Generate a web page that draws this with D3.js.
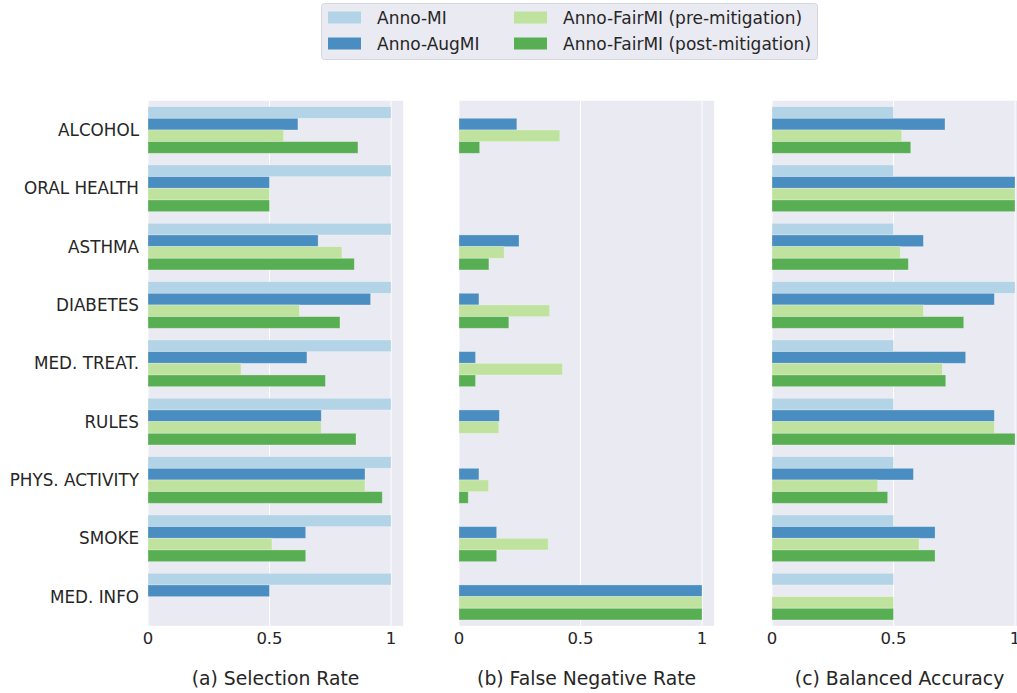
<!DOCTYPE html>
<html>
<head>
<meta charset="utf-8">
<script src="https://cdn.jsdelivr.net/npm/d3@7"></script>
<style>
  body { margin: 0; background: #fff; }
  text { font-family: "DejaVu Sans", sans-serif; fill: #262626; }
</style>
</head>
<body>
<div id="chart"></div>
<script>
// categories and series
const CATEGORIES = ['ALCOHOL', 'ORAL HEALTH', 'ASTHMA', 'DIABETES', 'MED. TREAT.', 'RULES', 'PHYS. ACTIVITY', 'SMOKE', 'MED. INFO'];
const SERIES = ['Anno-MI', 'Anno-AugMI', 'Anno-FairMI (pre-mitigation)', 'Anno-FairMI (post-mitigation)'];
const COLORS = ['#b3d3e6', '#4a8dc0', '#bfe29e', '#58ae52'];

// (a) selection rate, one array per series
const selMI      = [1, 1, 1, 1, 1, 1, 1, 1, 1];
const selAugMI   = [0.617, 0.5, 0.70, 0.916, 0.654, 0.713, 0.893, 0.649, 0.5];
const selFairPre = [0.558, 0.5, 0.798, 0.623, 0.383, 0.713, 0.893, 0.51, 0];
const selFairPost= [0.864, 0.5, 0.849, 0.79, 0.73, 0.856, 0.964, 0.649, 0];

// (b) false negative rate
const fnrMI      = [0, 0, 0, 0, 0, 0, 0, 0, 0];
const fnrAugMI   = [0.238, 0, 0.247, 0.082, 0.068, 0.166, 0.082, 0.155, 1];
const fnrFairPre = [0.415, 0, 0.186, 0.373, 0.426, 0.164, 0.122, 0.367, 1];
const fnrFairPost= [0.085, 0, 0.123, 0.205, 0.068, 0, 0.038, 0.155, 1];

// (c) balanced accuracy
const accMI      = [0.5, 0.5, 0.5, 1, 0.5, 0.5, 0.5, 0.5, 0.5];
const accAugMI   = [0.712, 1, 0.623, 0.915, 0.797, 0.915, 0.582, 0.671, 0];
const accFairPre = [0.534, 1, 0.528, 0.623, 0.701, 0.915, 0.435, 0.605, 0.5];
const accFairPost= [0.571, 1, 0.561, 0.789, 0.715, 1, 0.476, 0.671, 0.5];

const TICKS = [0, 0.5, 1];
const TICK_LABELS = ['0', '0.5', '1'];

const panels = [
  { title: '(a) Selection Rate', left: 148, values: [selMI, selAugMI, selFairPre, selFairPost], yLabels: true },
  { title: '(b) False Negative Rate', left: 459, values: [fnrMI, fnrAugMI, fnrFairPre, fnrFairPost], yLabels: false },
  { title: '(c) Balanced Accuracy', left: 772, values: [accMI, accAugMI, accFairPre, accFairPost], yLabels: false }
];

const W = 1017, H = 693;
const plotTop = 100.8, plotBottom = 625.8;
const unit = 243; // pixels per 1.0

const svg = d3.select('#chart').append('svg')
    .attr('width', W)
    .attr('height', H);

svg.append('rect').attr('width', W).attr('height', H).attr('fill', '#fff');

const y = d3.scaleBand()
    .domain(CATEGORIES)
    .range([plotTop, plotBottom])
    .paddingInner(0.2)
    .paddingOuter(0.1);

const ySub = d3.scaleBand()
    .domain(d3.range(SERIES.length))
    .range([0, y.bandwidth()]);

panels.forEach((p) => {
  const x = d3.scaleLinear().domain([0, 1.05]).range([p.left, p.left + unit * 1.05]);
  const g = svg.append('g');

  // background
  g.append('rect')
    .attr('x', x(0))
    .attr('y', plotTop)
    .attr('width', x(1.05) - x(0))
    .attr('height', plotBottom - plotTop)
    .attr('fill', '#eaeaf2');

  // vertical grid
  g.selectAll('line.grid')
    .data(TICKS)
    .enter()
    .append('line')
    .attr('class', 'grid')
    .attr('x1', (d) => x(d)).attr('x2', (d) => x(d))
    .attr('y1', plotTop).attr('y2', plotBottom)
    .attr('stroke', '#fff')
    .attr('stroke-width', 1);

  // bars
  p.values.forEach((vals, si) => {
    g.selectAll('rect.s' + si)
      .data(vals)
      .enter()
      .append('rect')
      .attr('class', 's' + si)
      .attr('x', x(0))
      .attr('y', (d, i) => y(CATEGORIES[i]) + ySub(si))
      .attr('width', (d) => x(d) - x(0))
      .attr('height', ySub.bandwidth())
      .attr('fill', COLORS[si])
      .attr('stroke', (d) => d > 0 ? '#ffffff' : 'none')
      .attr('stroke-opacity', 0.35)
      .attr('stroke-width', 0.8);
  });

  // x tick labels
  g.selectAll('text.tick')
    .data(TICKS)
    .enter()
    .append('text')
    .attr('class', 'tick')
    .attr('x', (d) => x(d))
    .attr('y', 644)
    .attr('text-anchor', 'middle')
    .style('font-size', '16.5px')
    .text((d, i) => TICK_LABELS[i]);

  // panel title
  g.append('text')
    .attr('x', (x(0) + x(1.05)) / 2)
    .attr('y', 685)
    .attr('text-anchor', 'middle')
    .style('font-size', '18.8px')
    .text(p.title);

  if (p.yLabels) {
    g.selectAll('text.ylab')
      .data(CATEGORIES)
      .enter()
      .append('text')
      .attr('class', 'ylab')
      .attr('x', 139)
      .attr('y', (d) => y(d) + y.bandwidth() / 2)
      .attr('dy', '0.36em')
      .attr('text-anchor', 'end')
      .style('font-size', '16.8px')
      .text((d) => d);
  }
});

// legend
const legend = svg.append('g');
legend.append('rect')
  .attr('x', 321.5).attr('y', 3.5)
  .attr('width', 496).attr('height', 56)
  .attr('rx', 3)
  .attr('fill', '#eaeaf2')
  .attr('stroke', '#d6d6de')
  .attr('stroke-width', 1);

const legendPos = [
  { x: 328, y: 17.5 }, { x: 328, y: 43.5 },
  { x: 514, y: 17.5 }, { x: 514, y: 43.5 }
];
SERIES.forEach((s, i) => {
  const pos = legendPos[i];
  legend.append('rect')
    .attr('x', pos.x).attr('y', pos.y - 6)
    .attr('width', 33).attr('height', 12)
    .attr('fill', COLORS[i]);
  legend.append('text')
    .attr('x', pos.x + 49)
    .attr('y', pos.y)
    .attr('dy', '0.36em')
    .style('font-size', '17px')
    .text(s);
});
</script>
</body>
</html>
